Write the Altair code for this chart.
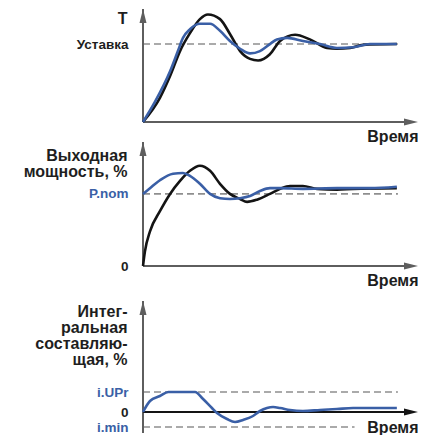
import altair as alt
import pandas as pd

# ---------------- data ----------------
# Panel 1: temperature T
time_T_black = [0, 0.8, 1.28, 1.75, 2.22, 2.69, 3.07, 3.64, 4.11, 4.59, 5.06, 5.44, 6.0, 6.48, 7.19, 7.89, 8.70, 9.17, 9.79, 10.4, 12.0]
T_black = [0, 31, 59, 91, 114, 132, 138, 132, 113, 91, 81, 79, 87, 104, 112, 106, 95, 94, 95, 99, 100]
time_T_blue = [0, 0.57, 1.28, 1.65, 1.89, 2.22, 2.69, 3.17, 3.64, 4.11, 4.59, 5.06, 5.53, 6.0, 6.33, 6.81, 7.56, 8.37, 9.17, 9.93, 10.73, 12.0]
T_blue = [0, 26, 65, 91, 108, 119, 126, 126, 117, 104, 94, 88, 91, 100, 106, 108, 104, 100, 95, 96, 100, 100]

# Panel 2: output power, %
time_P_black = [0, 0.09, 0.33, 0.80, 1.28, 1.75, 2.22, 2.69, 3.17, 3.64, 4.11, 4.59, 4.92, 5.39, 6.0, 6.48, 6.95, 7.56, 8.23, 9.17, 9.93, 12.0]
P_black = [0, 10, 24, 38, 50, 59, 66, 69.5, 66, 57, 50, 46.5, 44.5, 46, 50, 53.5, 55.5, 55.5, 53.5, 53, 53.5, 54]
time_P_blue = [0, 0.33, 0.80, 1.42, 1.89, 2.22, 2.69, 3.17, 3.64, 4.11, 4.59, 5.06, 5.53, 6.0, 6.48, 7.56, 9.17, 10.73, 12.0]
P_blue = [50, 54, 59.5, 64, 64.5, 62.5, 57, 50, 47, 46.5, 47, 48.5, 52, 54, 54, 53.5, 54, 54, 55]

# Panel 3: integral component, %
time_I_blue = [0, 0.33, 0.80, 1.2, 2.46, 2.84, 3.26, 3.50, 3.97, 4.35, 4.73, 5.20, 5.53, 5.86, 6.15, 6.48, 6.95, 7.56, 8.37, 9.17, 9.93, 12.0]
I_blue = [0, 11, 16, 20, 20, 13, 4, -1, -7, -10, -8, -4, 1, 4, 5, 4, 2, 1, 2, 3, 4, 4]

setpoint = 100
p_nom = 50
i_upr = 20
i_min = -15

time_end = 13        # end of the time axis (arrow tip)
ref_end = 12.05      # end of the dashed reference lines
i_min_end = 10.0     # end of the i.min dashed line

T_domain = [0, 145]
P_domain = [0, 86]
I_domain = [-21, 126]
I_axis_top = 111

# ---------------- styling ----------------
FONT = "Liberation Sans"
BLUE = "#3a5fa6"
BLACK = "#141414"
GRAY = "#5e5e5e"
DASH = "#8e8e8e"
TEXT = "#1e1e1e"
W = 275

x_scale = alt.Scale(domain=[0, time_end], nice=False, zero=False)

UP_ARROW = "M0,-1L0.5,1L-0.5,1Z"
RIGHT_ARROW = "M1,0L-1,0.5L-1,-0.5Z"


def x_enc(title_y, field="t"):
    return alt.X(
        f"{field}:Q",
        scale=x_scale,
        axis=alt.Axis(
            title="Время", domain=False, ticks=False, labels=False, grid=False,
            titleX=W, titleY=title_y, titleAlign="right", titleBaseline="middle",
            titleFont=FONT, titleFontSize=16, titleFontWeight="bold", titleColor=TEXT,
        ),
    )


def y_enc(domain, title, title_y, values, label_expr, blue_test):
    label_color = TEXT if blue_test is None else {
        "condition": {"test": blue_test, "value": BLUE}, "value": TEXT}
    return alt.Y(
        "v:Q",
        scale=alt.Scale(domain=domain, nice=False, zero=False),
        axis=alt.Axis(
            title=title, values=values, labelExpr=label_expr,
            domain=False, ticks=False, grid=False, labelOverlap=False,
            labelPadding=15, labelFont=FONT, labelFontSize=13.5, labelFontWeight="bold",
            labelColor=label_color, labelBaseline="middle", labelAlign="right",
            titleAngle=0, titleX=-16, titleY=title_y, titleAlign="right", titleBaseline="top",
            titleFont=FONT, titleFontSize=16, titleFontWeight="bold", titleColor=TEXT,
            titleLineHeight=16,
        ),
    )


def panel(height, X, Y, curves, refs, y_bottom, y_top, x_axis_color):
    layers = []
    for ref_v, ref_e in refs:
        df = pd.DataFrame({"t": [0], "t1": [ref_e], "v": [ref_v]})
        layers.append(
            alt.Chart(df).mark_rule(color=DASH, strokeWidth=1.6, strokeDash=[7, 4])
            .encode(x=X, x2="t1:Q", y=Y)
        )
    # axes lines
    yax = pd.DataFrame({"t": [0], "v": [y_bottom], "v1": [y_top]})
    layers.append(alt.Chart(yax).mark_rule(color=GRAY, strokeWidth=2).encode(x=X, y=Y, y2="v1:Q"))
    xax = pd.DataFrame({"t": [0], "t1": [time_end - 0.3], "v": [0]})
    layers.append(alt.Chart(xax).mark_rule(color=x_axis_color, strokeWidth=2).encode(x=X, x2="t1:Q", y=Y))
    # curves
    for ts, vs, col in curves:
        df = pd.DataFrame({"t": ts, "v": vs})
        layers.append(
            alt.Chart(df).mark_line(color=col, strokeWidth=2.6, interpolate="monotone")
            .encode(x=X, y=Y)
        )
    # arrow heads
    up = pd.DataFrame({"t": [0], "v": [y_top]})
    layers.append(
        alt.Chart(up).mark_point(shape=UP_ARROW, filled=True, size=196, color=GRAY, opacity=1, yOffset=7)
        .encode(x=X, y=Y)
    )
    right = pd.DataFrame({"t": [time_end], "v": [0]})
    layers.append(
        alt.Chart(right).mark_point(shape=RIGHT_ARROW, filled=True, size=196, color=x_axis_color, opacity=1, xOffset=-7)
        .encode(x=X, y=Y)
    )
    return alt.layer(*layers).properties(width=W, height=height)


p1 = panel(
    113,
    x_enc(14),
    y_enc(T_domain, "T", 1, [setpoint], "'Уставка'", None),
    [(time_T_black, T_black, BLACK), (time_T_blue, T_blue, BLUE)],
    [(setpoint, ref_end)],
    0, T_domain[1], GRAY,
)

p2 = panel(
    124,
    x_enc(14),
    y_enc(P_domain, ["Выходная", "мощность, %"], 5, [0, p_nom],
          f"datum.value == {p_nom} ? 'P.nom' : '0'", f"datum.value == {p_nom}"),
    [(time_P_black, P_black, BLACK), (time_P_blue, P_blue, BLUE)],
    [(p_nom, ref_end)],
    0, P_domain[1], GRAY,
)

p3 = panel(
    147,
    x_enc(-6),
    y_enc(I_domain, ["Интег-", "ральная", "составляю-", "щая, %"], 17, [i_min, 0, i_upr],
          f"datum.value == {i_upr} ? 'i.UPr' : (datum.value == {i_min} ? 'i.min' : '0')",
          "datum.value != 0"),
    [(time_I_blue, I_blue, BLUE)],
    [(i_upr, ref_end), (i_min, i_min_end)],
    I_domain[0], I_axis_top, BLACK,
)

chart = (
    alt.vconcat(p1, p2, p3, spacing=20, bounds="flush")
    .properties(padding={"left": 15, "top": 0, "right": 0, "bottom": 0}, background="white")
    .configure_view(strokeWidth=0)
)

chart.save("out.html", embed_options={"renderer": "svg", "actions": False})
